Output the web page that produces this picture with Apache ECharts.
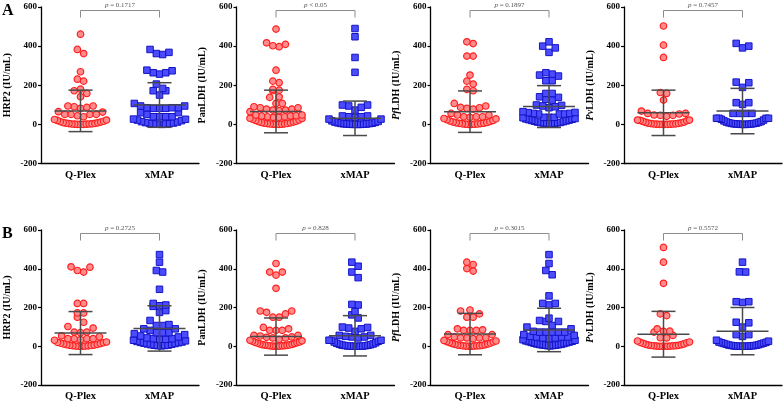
<!DOCTYPE html>
<html>
<head>
<meta charset="UTF-8" />
<title>Q-Plex vs xMAP</title>
<script src="https://cdn.jsdelivr.net/npm/echarts@6/dist/echarts.min.js"></script>
<style>
    html, body { margin: 0; padding: 0; background: #fff; }
    #chart { width: 783px; height: 402px; }
</style>
</head>
<body>
<div id="chart"></div>
<script type="text/javascript">
// values (IU/mL)
var categories = ['Q-Plex', 'xMAP'];
var yNames = ['HRP2 (IU/mL)', 'PanLDH (IU/mL)', '{i|Pf}LDH (IU/mL)', '{i|Pv}LDH (IU/mL)'];

// row A
var hrp2A_qplex = [461,383,362,269,231,221,180,172,158,141,94,94,90,87,82,65,63,51,51,51,51,44,39,25,22,20,16,14,12,9,8,6,5,4,3,2,2,1,1,0,0,0];
var hrp2A_xmap = [383,368,362,357,277,274,264,264,257,206,184,172,172,150,107,94,94,85,85,85,82,82,82,60,60,51,39,39,39,39,27,26,22,19,14,12,9,7,5,4,2,2,1,0];
var panA_qplex = [487,417,409,402,397,277,221,213,179,175,172,141,138,107,107,90,85,85,78,78,73,73,70,65,48,48,44,43,43,39,39,36,36,31,30,26,22,20,16,14,12,10,8,6,5,4,3,2,1,1,0,0];
var panA_xmap = [490,448,342,266,99,99,94,87,73,43,43,39,39,36,27,27,18,15,12,10,8,6,5,4,3,2,2,1,1,0,0,0,0];
var pfA_qplex = [422,413,349,349,252,221,206,179,172,107,94,87,85,82,78,56,48,48,39,39,39,36,30,28,24,20,17,14,12,10,8,6,5,4,3,2,1,1,0,0];
var pfA_xmap = [422,400,391,368,264,257,252,247,223,223,158,158,141,138,128,124,99,97,94,90,85,65,61,60,56,56,53,53,53,36,36,36,34,30,28,26,24,22,20,18,16,14,12,10,9,8,7,6,5,4,3];
var pvA_qplex = [503,405,342,163,158,124,68,56,56,53,48,46,46,41,22,22,20,18,15,12,10,8,6,5,4,3,2,2,1,1,0,0,0,0];
var pvA_xmap = [414,400,391,216,213,189,111,111,102,56,56,56,56,31,31,31,31,26,22,18,14,12,10,8,6,5,4,3,2,2,1,1,0,0,0];

// row B
var hrp2B_qplex = [410,408,391,383,221,221,172,172,150,124,102,94,73,73,70,54,49,39,39,39,39,34,31,22,20,18,16,14,12,10,8,6,5,4,3,2,1,1,0,0];
var hrp2B_xmap = [473,434,391,383,294,221,213,209,206,184,175,133,112,107,107,90,90,82,70,70,70,65,60,53,48,43,39,39,36,36,31,28,25,22,20,18,16,14,12,10,8,6,5,4,3,2];
var panB_qplex = [427,383,383,367,299,182,182,175,167,150,150,97,90,82,82,82,56,56,53,48,46,43,43,36,31,28,26,22,20,18,16,14,12,10,8,7,6,5,4,3,2,2,1,1,0,0];
var panB_xmap = [434,413,383,354,216,213,179,162,146,99,97,94,90,77,56,56,51,48,48,43,31,31,31,26,22,18,15,12,10,8,6,5,4,3,2,1,1,0,0,0,0];
var pfB_qplex = [434,422,401,388,187,182,167,150,150,90,85,82,82,82,60,60,48,44,43,43,43,39,30,27,24,22,19,16,14,12,10,8,6,5,4,3,2,2,1,1,0,0];
var pfB_xmap = [473,427,391,369,260,221,221,213,145,133,128,128,107,99,90,77,73,73,73,73,73,60,56,51,48,48,48,43,43,39,34,31,28,26,24,22,20,18,16,14,12,10,9,8,7,6,5,4,3,2];
var pvB_qplex = [510,434,325,167,158,90,78,77,73,56,44,43,27,22,20,18,15,12,10,8,6,5,4,3,2,2,1,1,0,0,0,0];
var pvB_xmap = [434,384,383,230,230,226,124,121,99,60,60,51,31,26,22,20,18,16,14,12,10,8,6,5,4,3,2,2,1,1,0,0,0,0];

// mean and SD as drawn (HRP2, PanLDH, PfLDH, PvLDH)
var qplexMeanA = [69, 66, 65, 59];
var qplexSdA = [106, 109, 106, 116];
var xmapMeanA = [99, 31, 91, 68];
var xmapSdA = [114, 88, 107, 116];
var qplexMeanB = [68, 50, 63, 62];
var qplexSdB = [111, 96, 107, 118];
var xmapMeanB = [92, 54, 84, 78];
var xmapSdB = [117, 104, 112, 122];

var pTextA = ['= 0.1717', '< 0.05', '= 0.1897', '= 0.7457'];
var pTextB = ['= 0.2725', '= 0.828', '= 0.3015', '= 0.5572'];
var rowLabels = ['A', 'B'];
</script>

<script type="text/javascript">
var chart = echarts.init(document.getElementById('chart'));

var SERIF = "'Liberation Serif', 'Times New Roman', serif";
var lefts = [41, 236.5, 430.5, 624];
var tops = [7, 230];
var gridW = 158, gridH = 156.5;
var yPxPerUnit = gridH / 800;
var xPxPerUnit = gridW / 2;

var rows = [
    { q: [hrp2A_qplex, panA_qplex, pfA_qplex, pvA_qplex], x: [hrp2A_xmap, panA_xmap, pfA_xmap, pvA_xmap],
      qm: qplexMeanA, qs: qplexSdA, xm: xmapMeanA, xs: xmapSdA, p: pTextA },
    { q: [hrp2B_qplex, panB_qplex, pfB_qplex, pvB_qplex], x: [hrp2B_xmap, panB_xmap, pfB_xmap, pvB_xmap],
      qm: qplexMeanB, qs: qplexSdB, xm: xmapMeanB, xs: xmapSdB, p: pTextB }
];

// simple row-binned beeswarm, lowest value of each row in the middle
function swarm(values, center) {
    var sorted = values.slice().sort(function (a, b) { return a - b; });
    var bins = [], cur = null;
    sorted.forEach(function (v) {
        if (!cur || (v - cur.start) * yPxPerUnit > 6.3) {
            cur = { start: v, vals: [] };
            bins.push(cur);
        }
        cur.vals.push(v);
    });
    var pts = [];
    bins.forEach(function (b) {
        var n = b.vals.length;
        var step = n > 1 ? Math.min(6.3, 52 / (n - 1)) : 0;
        var slots = [];
        for (var k = 0; k < n; k++) slots.push((k - (n - 1) / 2) * step);
        slots.sort(function (a, c) { return Math.abs(a) - Math.abs(c) || c - a; });
        b.vals.forEach(function (v, i) {
            pts.push([center + slots[i] / xPxPerUnit, v]);
        });
    });
    return pts;
}

function renderErr(params, api) {
    var x = api.value(0), m = api.value(1), s = api.value(2);
    var c = api.coord([x, m]);
    var t = api.coord([x, m + s]);
    var b = api.coord([x, m - s]);
    var st = { stroke: '#4a4a4a', lineWidth: 1.5 };
    return {
        type: 'group',
        children: [
            { type: 'line', shape: { x1: c[0], y1: t[1], x2: c[0], y2: b[1] }, style: st },
            { type: 'line', shape: { x1: c[0] - 26, y1: c[1], x2: c[0] + 26, y2: c[1] }, style: st },
            { type: 'line', shape: { x1: c[0] - 12, y1: t[1], x2: c[0] + 12, y2: t[1] }, style: st },
            { type: 'line', shape: { x1: c[0] - 12, y1: b[1], x2: c[0] + 12, y2: b[1] }, style: st }
        ]
    };
}

function renderBracket(params, api) {
    var a = api.coord([api.value(0), api.value(2)]);
    var b = api.coord([api.value(1), api.value(2)]);
    var txt = params.context ? '' : '';
    return {
        type: 'group',
        children: [
            {
                type: 'polyline',
                shape: { points: [[a[0], a[1] + 7], [a[0], a[1]], [b[0], b[1]], [b[0], b[1] + 7]] },
                style: { stroke: '#8c8c8c', lineWidth: 1, fill: null }
            },
            {
                type: 'text',
                x: (a[0] + b[0]) / 2,
                y: a[1] - 2,
                style: {
                    text: '{i|p} ' + api.value(3),
                    align: 'center',
                    verticalAlign: 'bottom',
                    fill: '#555',
                    font: '7px ' + SERIF,
                    rich: {
                        i: { fontStyle: 'italic', fontSize: 7, fontFamily: SERIF, fill: '#555' }
                    }
                }
            }
        ]
    };
}

var grids = [], xAxes = [], yAxes = [], series = [];

rows.forEach(function (row, r) {
    for (var c = 0; c < 4; c++) {
        var g = grids.length;
        grids.push({ left: lefts[c], top: tops[r], width: gridW, height: gridH });
        xAxes.push({
            type: 'category', gridIndex: g, data: categories, boundaryGap: true,
            axisLine: { onZero: false, lineStyle: { color: '#000', width: 1.3 } },
            axisTick: { alignWithLabel: true, length: 3, lineStyle: { color: '#000', width: 1.2 } },
            axisLabel: { color: '#000', fontFamily: SERIF, fontWeight: 'bold', fontSize: 10.5, margin: 6 },
            splitLine: { show: false }
        });
        xAxes.push({ type: 'value', gridIndex: g, min: 0, max: 2, show: false });
        yAxes.push({
            type: 'value', gridIndex: g, min: -200, max: 600, interval: 200,
            name: yNames[c], nameLocation: 'middle', nameGap: 29,
            nameTextStyle: {
                color: '#000', fontFamily: SERIF, fontWeight: 'bold', fontSize: 10,
                rich: { i: { fontStyle: 'italic', fontWeight: 'bold', fontFamily: SERIF, fontSize: 10, color: '#000' } }
            },
            axisLine: { show: true, onZero: false, lineStyle: { color: '#000', width: 1.3 } },
            axisTick: { show: true, length: 3, lineStyle: { color: '#000', width: 1.2 } },
            axisLabel: { color: '#000', fontFamily: SERIF, fontWeight: 'bold', fontSize: 9, margin: 4 },
            splitLine: { show: false }
        });
        var xi = g * 2 + 1;
        series.push({
            type: 'scatter', xAxisIndex: xi, yAxisIndex: g, symbol: 'circle', symbolSize: 6.5,
            itemStyle: { color: '#ff8c8c', borderColor: '#ff1f1f', borderWidth: 1.2, opacity: 1 },
            data: swarm(row.q[c], 0.5), silent: true, z: 2
        });
        series.push({
            type: 'scatter', xAxisIndex: xi, yAxisIndex: g, symbol: 'rect', symbolSize: 6.5,
            itemStyle: { color: '#4b4bff', borderColor: '#1414c4', borderWidth: 1, opacity: 1 },
            data: swarm(row.x[c], 1.5), silent: true, z: 2
        });
        series.push({
            type: 'custom', xAxisIndex: xi, yAxisIndex: g, renderItem: renderErr, clip: false, z: 3,
            data: [[0.5, row.qm[c], row.qs[c]], [1.5, row.xm[c], row.xs[c]]], silent: true
        });
        series.push({
            type: 'custom', xAxisIndex: xi, yAxisIndex: g, renderItem: renderBracket, clip: false, z: 3,
            data: [[0.5, 1.5, 582, row.p[c]]], silent: true
        });
    }
});

var option = {
    animation: false,
    backgroundColor: '#fff',
    grid: grids,
    xAxis: xAxes,
    yAxis: yAxes,
    series: series,
    graphic: rowLabels.map(function (t, i) {
        return {
            type: 'text', left: 2, top: i === 0 ? 3 : 226,
            style: { text: t, font: 'bold 16px ' + SERIF, fill: '#000' }
        };
    })
};
chart.setOption(option);
</script>
</body>
</html>
